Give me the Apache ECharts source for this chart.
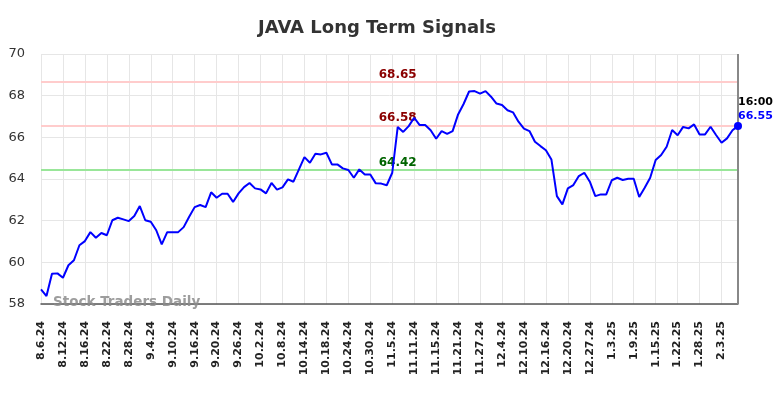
<!DOCTYPE html>
<html>
<head>
<meta charset="utf-8">
<script src="https://cdn.jsdelivr.net/npm/echarts@6/dist/echarts.min.js"></script>
<style>
html,body{margin:0;padding:0;background:#fff;}
#chart{width:784px;height:398px;}
</style>
</head>
<body>
<div id="chart"></div>
<script>
const titleText = 'JAVA Long Term Signals';
const watermarkText = 'Stock Traders Daily';
const lastTimeLabel = '16:00';

const dates = [
  '8.6.24','8.7.24','8.8.24','8.9.24','8.12.24','8.13.24','8.14.24','8.15.24','8.16.24','8.19.24',
  '8.20.24','8.21.24','8.22.24','8.23.24','8.26.24','8.27.24','8.28.24','8.29.24','8.30.24','9.3.24',
  '9.4.24','9.5.24','9.6.24','9.9.24','9.10.24','9.11.24','9.12.24','9.13.24','9.16.24','9.17.24',
  '9.18.24','9.19.24','9.20.24','9.23.24','9.24.24','9.25.24','9.26.24','9.27.24','9.30.24','10.1.24',
  '10.2.24','10.3.24','10.4.24','10.7.24','10.8.24','10.9.24','10.10.24','10.11.24','10.14.24','10.15.24',
  '10.16.24','10.17.24','10.18.24','10.21.24','10.22.24','10.23.24','10.24.24','10.25.24','10.28.24','10.29.24',
  '10.30.24','10.31.24','11.1.24','11.4.24','11.5.24','11.6.24','11.7.24','11.8.24','11.11.24','11.12.24',
  '11.13.24','11.14.24','11.15.24','11.18.24','11.19.24','11.20.24','11.21.24','11.22.24','11.25.24','11.26.24',
  '11.27.24','11.29.24','12.2.24','12.3.24','12.4.24','12.5.24','12.6.24','12.9.24','12.10.24','12.11.24',
  '12.12.24','12.13.24','12.16.24','12.17.24','12.18.24','12.19.24','12.20.24','12.23.24','12.24.24','12.26.24',
  '12.27.24','12.30.24','12.31.24','1.2.25','1.3.25','1.6.25','1.7.25','1.8.25','1.9.25','1.10.25',
  '1.13.25','1.14.25','1.15.25','1.16.25','1.17.25','1.21.25','1.22.25','1.23.25','1.24.25','1.27.25',
  '1.28.25','1.29.25','1.30.25','1.31.25','2.3.25','2.4.25','2.5.25','2.6.25'
];

const prices = [
  58.70,58.38,59.45,59.47,59.26,59.86,60.10,60.82,61.02,61.45,
  61.18,61.41,61.30,62.02,62.14,62.06,61.98,62.22,62.70,62.02,
  61.95,61.54,60.86,61.45,61.45,61.45,61.69,62.19,62.65,62.75,
  62.65,63.36,63.10,63.29,63.29,62.90,63.31,63.61,63.81,63.55,
  63.50,63.31,63.81,63.49,63.60,63.98,63.87,64.46,65.05,64.78,
  65.21,65.18,65.26,64.70,64.70,64.51,64.43,64.06,64.46,64.22,
  64.22,63.79,63.78,63.70,64.30,66.50,66.26,66.54,66.94,66.59,
  66.59,66.34,65.93,66.30,66.17,66.30,67.10,67.60,68.20,68.22,
  68.10,68.22,67.95,67.62,67.55,67.30,67.20,66.75,66.42,66.30,
  65.79,65.58,65.38,64.94,63.18,62.78,63.55,63.71,64.14,64.30,
  63.87,63.18,63.26,63.26,63.94,64.06,63.95,64.01,64.01,63.14,
  63.58,64.06,64.91,65.15,65.55,66.35,66.10,66.50,66.43,66.62,
  66.14,66.14,66.51,66.11,65.74,65.95,66.34,66.55
];

const levelValues = [68.65, 66.58, 64.42];
const levelLineColors = ['#ffcccc', '#ffcccc', '#99e699'];
const levelTextColors = ['#8b0000', '#8b0000', '#006400'];
const levelLabelIndex = 65;

const yMin = 58, yMax = 70, yStep = 2;

const chart = echarts.init(document.getElementById('chart'));
const lastIdx = prices.length - 1;
const lastVal = prices[lastIdx];

const option = {
  animation: false,
  textStyle: { fontFamily: 'DejaVu Sans' },
  title: {
    text: titleText,
    left: 253,
    top: 14,
    textStyle: { fontSize: 18, fontWeight: 'bold', color: '#333', fontFamily: 'DejaVu Sans' }
  },
  grid: { left: 41, right: 46, top: 54, bottom: 94, containLabel: false },
  xAxis: {
    type: 'category',
    data: dates,
    boundaryGap: false,
    axisLine: { show: true, lineStyle: { color: '#555', width: 1.5 } },
    axisTick: { show: false },
    axisLabel: {
      interval: 3,
      rotate: 90,
      margin: 17,
      fontSize: 11,
      fontWeight: 'bold',
      color: '#222',
      fontFamily: 'DejaVu Sans'
    },
    splitLine: { show: true, interval: 3, lineStyle: { color: '#e6e6e6', width: 1 } }
  },
  yAxis: {
    type: 'value',
    min: yMin,
    max: yMax,
    interval: yStep,
    axisLine: { show: false },
    axisTick: { show: false },
    axisLabel: { fontSize: 13, color: '#333', margin: 16, fontFamily: 'DejaVu Sans' },
    splitLine: { show: true, lineStyle: { color: '#e6e6e6', width: 1 } }
  },
  graphic: [{
    type: 'text',
    left: 53,
    top: 295,
    z: 100,
    style: {
      text: watermarkText,
      fill: 'rgba(140,140,140,0.85)',
      font: 'bold 13.5px "DejaVu Sans"'
    }
  }],
  series: [{
    type: 'line',
    data: prices,
    symbol: 'none',
    lineStyle: { color: '#0000ff', width: 2 },
    itemStyle: { color: '#0000ff' },
    z: 5,
    markLine: {
      silent: true,
      symbol: 'none',
      label: { show: false },
      z: 1,
      data: levelValues.map((v, i) => ({
        yAxis: v,
        lineStyle: { color: levelLineColors[i], width: 2, type: 'solid' }
      })).concat([{
        xAxis: dates[lastIdx],
        lineStyle: { color: '#888', width: 2, type: 'solid' }
      }])
    },
    markPoint: {
      silent: true,
      data: levelValues.map((v, i) => ({
        coord: [dates[levelLabelIndex], v],
        symbol: 'circle',
        symbolSize: 0,
        label: {
          show: true,
          position: 'top',
          distance: 1,
          formatter: v.toFixed(2),
          color: levelTextColors[i],
          fontSize: 12,
          fontWeight: 'bold',
          fontFamily: 'DejaVu Sans'
        }
      })).concat([{
        coord: [dates[lastIdx], lastVal],
        symbol: 'circle',
        symbolSize: 8,
        itemStyle: { color: '#0000ff' },
        label: {
          show: true,
          position: [4, 1],
          align: 'left',
          verticalAlign: 'bottom',
          formatter: '{a|' + lastTimeLabel + '}\n{b|' + lastVal.toFixed(2) + '}',
          rich: {
            a: { color: '#000', fontSize: 11, fontWeight: 'bold', lineHeight: 14, fontFamily: 'DejaVu Sans' },
            b: { color: '#0000ff', fontSize: 11, fontWeight: 'bold', lineHeight: 14, fontFamily: 'DejaVu Sans' }
          }
        }
      }])
    }
  }]
};

chart.setOption(option);
</script>
</body>
</html>
